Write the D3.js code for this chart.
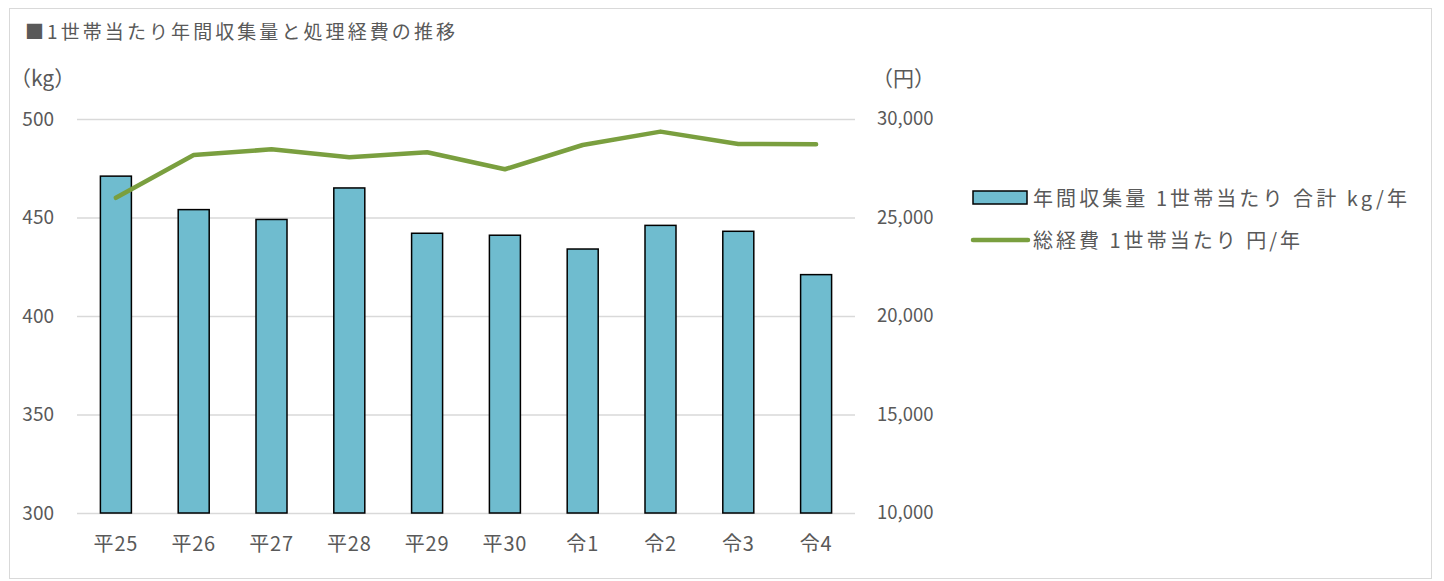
<!DOCTYPE html>
<html>
<head>
<meta charset="utf-8">
<script src="https://cdn.jsdelivr.net/npm/d3@7"></script>
<style>
  body { margin: 0; background: #fff; }
  svg text { font-family: "Noto Sans CJK JP", "Noto Sans", sans-serif; fill: #595959; }
</style>
</head>
<body>
<div id="container"></div>
<script>
const w = 1444;
const h = 581;

const years = ["平25", "平26", "平27", "平28", "平29", "平30", "令1", "令2", "令3", "令4"];
const kgPerHousehold = [471, 454, 449, 465, 442, 441, 434, 446, 443, 421];
const costPerHousehold = [26000, 28170, 28460, 28060, 28310, 27450, 28680, 29360, 28730, 28720];
const leftTicks = [300, 350, 400, 450, 500];
const rightTicks = [10000, 15000, 20000, 25000, 30000];

const plotLeft = 77, plotRight = 855, plotTop = 119, plotBottom = 513;

const svg = d3.select("#container").append("svg")
  .attr("width", w).attr("height", h);

// outer frame
svg.append("rect")
  .attr("x", 9.5).attr("y", 8.5).attr("width", 1422).attr("height", 570)
  .attr("fill", "none").attr("stroke", "#d9d9d9");

svg.append("text")
  .attr("x", 25).attr("y", 39)
  .attr("font-size", 19)
  .attr("textLength", 430).attr("lengthAdjust", "spacing")
  .text("■1世帯当たり年間収集量と処理経費の推移");

const xc = d3.scaleBand().domain(years).range([plotLeft, plotRight]);
const yL = d3.scaleLinear().domain([300, 500]).range([plotBottom, plotTop]);
const yR = d3.scaleLinear().domain([10000, 30000]).range([plotBottom, plotTop]);

// gridlines
svg.append("g").selectAll("line").data(leftTicks).enter().append("line")
  .attr("x1", plotLeft).attr("x2", plotRight)
  .attr("y1", d => yL(d) + 0.5).attr("y2", d => yL(d) + 0.5)
  .attr("stroke", "#d9d9d9").attr("stroke-width", 1.5);

// left axis labels
const yAxisL = d3.axisLeft(yL).tickValues(leftTicks).tickSize(0).tickPadding(0);
svg.append("g").attr("transform", "translate(54,0)").call(yAxisL)
  .call(g => g.select(".domain").remove())
  .call(g => g.selectAll("text").attr("font-size", 19).attr("fill", "#595959")
    .attr("font-family", "'Noto Sans CJK JP', sans-serif"));

// right axis labels
const yAxisR = d3.axisRight(yR).tickValues(rightTicks).tickSize(0).tickPadding(0)
  .tickFormat(d3.format(","));
svg.append("g").attr("transform", "translate(877,0)").call(yAxisR)
  .call(g => g.select(".domain").remove())
  .call(g => g.selectAll("text").attr("font-size", 18.5).attr("fill", "#595959")
    .attr("font-family", "'Noto Sans CJK JP', sans-serif"));

// x axis labels
const xAxis = d3.axisBottom(xc).tickSize(0).tickPadding(0);
svg.append("g").attr("transform", "translate(0,537)").call(xAxis)
  .call(g => g.select(".domain").remove())
  .call(g => g.selectAll("text").attr("font-size", 20).attr("fill", "#595959")
    .attr("letter-spacing", 0.8)
    .attr("font-family", "'Noto Sans CJK JP', sans-serif"));

// unit labels
svg.append("text").attr("x", 10).attr("y", 86).attr("font-size", 21).text("（kg）");
svg.append("text").attr("x", 872).attr("y", 86).attr("font-size", 21).text("（円）");

// bars
svg.append("g").selectAll("rect").data(kgPerHousehold).enter().append("rect")
  .attr("x", (d, i) => xc(years[i]) + xc.bandwidth() / 2 - 15.5)
  .attr("width", 31)
  .attr("y", d => yL(d))
  .attr("height", d => yL(300) - yL(d))
  .attr("fill", "#6fbccf")
  .attr("stroke", "#000").attr("stroke-width", 1.5);

// line
const line = d3.line()
  .x((d, i) => xc(years[i]) + xc.bandwidth() / 2)
  .y(d => yR(d));
svg.append("path").datum(costPerHousehold)
  .attr("d", line)
  .attr("fill", "none").attr("stroke", "#7a9f3f").attr("stroke-width", 4.5)
  .attr("stroke-linecap", "round").attr("stroke-linejoin", "round");

// legend
const lg = svg.append("g");
lg.append("rect").attr("x", 973).attr("y", 191).attr("width", 54).attr("height", 13)
  .attr("fill", "#6fbccf").attr("stroke", "#000").attr("stroke-width", 1.5);
lg.append("text").attr("x", 1033).attr("y", 206).attr("font-size", 20)
  .attr("textLength", 374).attr("lengthAdjust", "spacing")
  .text("年間収集量 1世帯当たり 合計 kg/年");
lg.append("line").attr("x1", 973).attr("x2", 1028).attr("y1", 240).attr("y2", 240)
  .attr("stroke", "#7a9f3f").attr("stroke-width", 4.5).attr("stroke-linecap", "round");
lg.append("text").attr("x", 1033).attr("y", 248).attr("font-size", 20)
  .attr("textLength", 267).attr("lengthAdjust", "spacing")
  .text("総経費 1世帯当たり 円/年");
</script>
</body>
</html>
